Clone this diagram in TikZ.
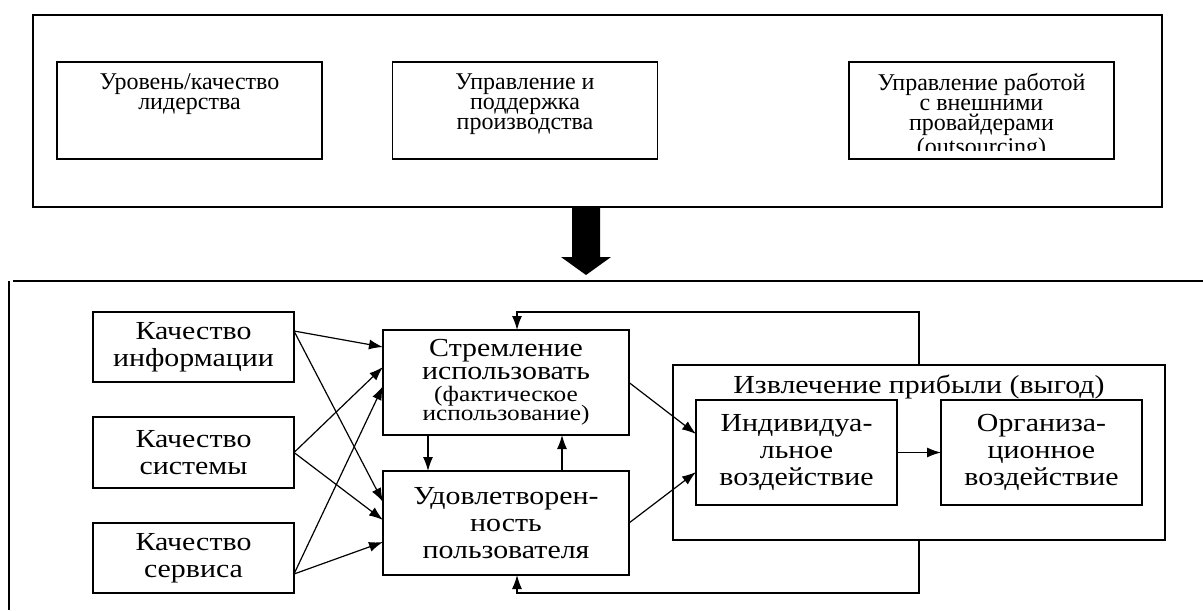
\documentclass[tikz,border=0pt]{standalone}
\usepackage{fontspec}
\setmainfont{Liberation Serif}
\newfontfamily\wideserif[FakeStretch=1.15]{Liberation Serif}
\usetikzlibrary{arrows.meta,calc}
\begin{document}
\begin{tikzpicture}[x=0.5pt,y=-0.5pt,
  topbox/.style={draw,line width=0.9pt,inner sep=0pt,outer sep=0pt,minimum width=132.5pt,minimum height=48.5pt},
  toptext/.style={anchor=north,inner sep=0pt,align=center,font=\fontsize{12}{10}\selectfont},
  box/.style={draw,line width=0.65pt,inner sep=0pt,outer sep=0pt,align=center,font=\wideserif\fontsize{13}{13.4}\selectfont},
  smallbox/.style={box,minimum width=100.5pt,minimum height=35pt},
  arr/.style={line width=0.6pt,-{Latex[length=7pt,width=5pt]}},
  frameline/.style={line width=1pt}
]
\useasboundingbox (0,0) rectangle (1203,610);

% ---------- top part ----------
\node[draw,line width=1.1pt,minimum width=564.5pt,minimum height=96pt,inner sep=0pt,outer sep=0pt] (topframe) at (597.5,111) {};
\node[topbox] (lead) at (189.5,110.5) {};
\node[toptext] (leadt) at (189.5,73) {Уровень/качество\\лидерства};
\node[topbox] (prod) at (525,110.5) {};
\node[toptext] (prodt) at (525,73) {Управление и\\поддержка\\производства};
\node[topbox] (outs) at (981.5,110.5) {};
\begin{scope}
  \clip (849,62) rectangle (1114,150);
  \node[toptext] (outst) at (981.5,73) {Управление работой\\с внешними\\провайдерами\\(outsourcing)};
\end{scope}

% big arrow
\fill (572,207) -- (600,207) -- (600,257) -- (611,257) -- (586,275) -- (561,257) -- (572,257) -- cycle;

% ---------- bottom frame lines ----------
\draw[frameline] (13,281) -- (1203,281);
\draw[frameline] (9,281) -- (9,610);

% ---------- bottom part ----------
\node[smallbox] (qi) at (193.5,347) {Качество\\информации};
\node[smallbox,minimum height=35.5pt] (qs) at (193.5,452.5) {Качество\\системы};
\node[smallbox] (qv) at (193.5,558) {Качество\\сервиса};

\node[box,minimum width=123pt,minimum height=52.5pt] (use) at (506,382.5)
  {Стремление\\[-1.9pt]использовать\\[-2.4pt]{\fontsize{11}{9}\selectfont(фактическое}\\[-4pt]{\fontsize{11}{9}\selectfont использование)}};
\node[box,minimum width=123pt,minimum height=52pt] (sat) at (506,523)
  {Удовлетворен-\\ность\\пользователя};

\node[draw,line width=0.65pt,minimum width=246pt,minimum height=87.5pt,inner sep=0pt,outer sep=0pt] (ben) at (919,452.5) {};
\node[font=\wideserif\fontsize{13}{13.4}\selectfont,anchor=base,inner sep=0pt] (bent) at (919,393) {Извлечение прибыли (выгод)};
\node[box,minimum width=100.5pt,minimum height=52.5pt] (ind) at (796.5,452.5) {Индивидуа-\\льное\\воздействие};
\node[box,minimum width=100.5pt,minimum height=52.5pt] (org) at (1041.5,452.5) {Организа-\\ционное\\воздействие};

% connectors
\draw[arr] ($(qi.east)+(0,-16)$) -- ($(use.west)+(0,-35.5)$);
\draw[arr] ($(qi.east)+(0,-16)$) -- ($(sat.west)+(0,-21)$);
\draw[arr] (qs.east) -- ($(use.west)+(0,-15.5)$);
\draw[arr] (qs.east) -- ($(sat.west)+(0,-3)$);
\draw[arr] ($(qv.east)+(0,16)$) -- ($(use.west)+(0,3.5)$);
\draw[arr] ($(qv.east)+(0,16)$) -- ($(sat.west)+(0,19)$);

\draw[arr] ($(use.south west)+(45,0)$) -- ($(sat.north west)+(45,0)$);
\draw[arr] ($(sat.north west)+(179,0)$) -- ($(use.south west)+(179,0)$);

\draw[arr] (use.east) -- ($(ind.west)+(0,-18.5)$);
\draw[arr] (sat.east) -- ($(ind.west)+(0,19.5)$);
\draw[arr] (ind.east) -- (org.west);

\draw[arr] (ben.north) -- ++(0,-53) -| ($(use.north)+(11,0)$);
\draw[arr] (ben.south) -- ++(0,53) -| ($(sat.south)+(11,0)$);
\end{tikzpicture}
\end{document}
